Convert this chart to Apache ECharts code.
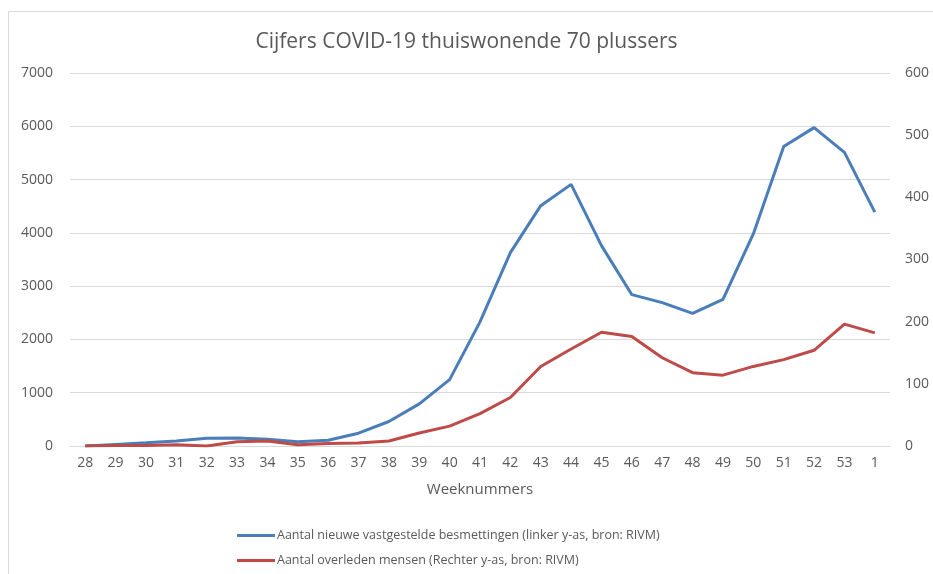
<!DOCTYPE html>
<html>
<head>
<meta charset="utf-8">
<script src="https://cdn.jsdelivr.net/npm/echarts@6/dist/echarts.min.js"></script>
<style>
  html, body { margin: 0; padding: 0; background: #fff; }
  #chart { width: 933px; height: 574px; }
</style>
</head>
<body>
<div id="chart"></div>
<script>
const weeks = ['28', '29', '30', '31', '32', '33', '34', '35', '36', '37', '38', '39', '40', '41',
  '42', '43', '44', '45', '46', '47', '48', '49', '50', '51', '52', '53', '1'];
const infections = [0, 30, 60, 95, 146, 150, 125, 78, 107, 240, 460, 790, 1245, 2330,
  3630, 4510, 4910, 3760, 2840, 2690, 2490, 2750, 3980, 5620, 5975, 5510, 4390];
const deaths = [0, 1, 1, 2, 0, 7, 8, 2, 4, 5, 8, 21, 32, 52,
  78, 128, 156, 183, 176, 142, 118, 114, 128, 139, 154, 196, 182];
const leftTicks = [0, 7000, 1000];
const rightTicks = [0, 600, 100];

const textColor = '#595959';
const font = '"Open Sans", "Liberation Sans", sans-serif';

const chart = echarts.init(document.getElementById('chart'));
chart.setOption({
  animation: false,
  textStyle: { fontFamily: font },
  graphic: [{
    type: 'rect',
    shape: { x: 8.5, y: 11.5, width: 940, height: 580 },
    style: { fill: 'none', stroke: '#d9d9d9', lineWidth: 1 },
    silent: true,
  }],
  title: {
    text: 'Cijfers COVID-19 thuiswonende 70 plussers',
    left: 'center',
    top: 27,
    textStyle: { fontSize: 21, fontWeight: 'normal', color: textColor, fontFamily: font },
  },
  grid: { left: 70, right: 43, top: 73, bottom: 128 },
  legend: {
    orient: 'vertical',
    left: 232,
    top: 524,
    itemGap: 12,
    itemWidth: 38,
    itemHeight: 3,
    icon: 'rect',
    textStyle: { fontSize: 12.5, color: textColor, fontFamily: font, padding: [0, 0, 0, -3] },
    data: [
      'Aantal nieuwe vastgestelde besmettingen (linker y-as, bron: RIVM)',
      'Aantal overleden mensen (Rechter y-as, bron: RIVM)',
    ],
  },
  xAxis: {
    type: 'category',
    data: weeks,
    boundaryGap: true,
    name: 'Weeknummers',
    nameLocation: 'middle',
    nameGap: 36,
    nameTextStyle: { fontSize: 15, color: textColor },
    axisLine: { lineStyle: { color: '#d9d9d9' } },
    axisTick: { show: false },
    axisLabel: { fontSize: 14, color: textColor, margin: 10, interval: 0 },
  },
  yAxis: [
    {
      type: 'value',
      min: leftTicks[0],
      max: leftTicks[1],
      interval: leftTicks[2],
      axisLine: { show: false },
      axisTick: { show: false },
      axisLabel: { fontSize: 14, color: textColor, margin: 17, formatter: v => String(v) },
      splitLine: { lineStyle: { color: '#d9d9d9', width: 1 } },
    },
    {
      type: 'value',
      min: rightTicks[0],
      max: rightTicks[1],
      interval: rightTicks[2],
      axisLine: { show: false },
      axisTick: { show: false },
      axisLabel: { fontSize: 14, color: textColor, margin: 15, formatter: v => String(v) },
      splitLine: { show: false },
    },
  ],
  series: [
    {
      name: 'Aantal nieuwe vastgestelde besmettingen (linker y-as, bron: RIVM)',
      type: 'line',
      yAxisIndex: 0,
      data: infections,
      symbol: 'none',
      lineStyle: { color: '#4a7ebb', width: 3 },
      itemStyle: { color: '#4a7ebb' },
    },
    {
      name: 'Aantal overleden mensen (Rechter y-as, bron: RIVM)',
      type: 'line',
      yAxisIndex: 1,
      data: deaths,
      symbol: 'none',
      lineStyle: { color: '#be4b48', width: 3 },
      itemStyle: { color: '#be4b48' },
    },
  ],
});
</script>
</body>
</html>
